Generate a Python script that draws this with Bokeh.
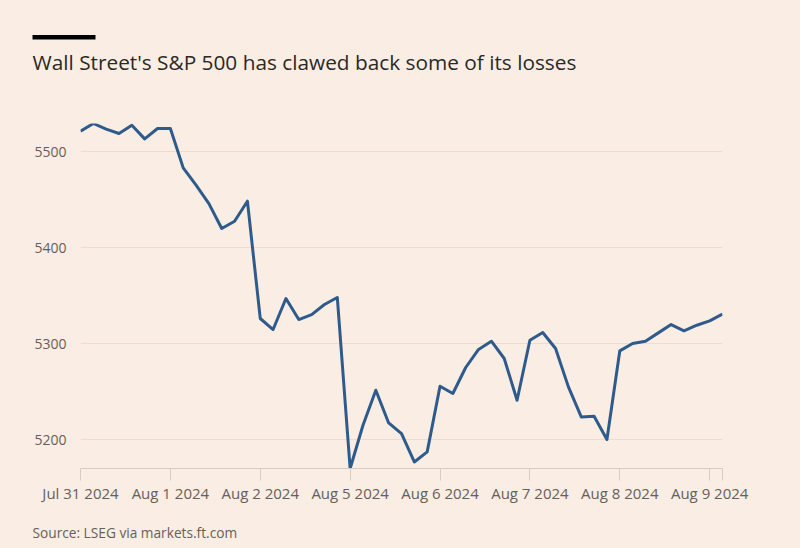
from bokeh.plotting import figure
from bokeh.models import FixedTicker, Range1d
from bokeh.layouts import column
from bokeh.core.properties import value
from bokeh.embed import file_html
from bokeh.resources import INLINE

# --- data (hourly S&P 500 levels) ---
sp500 = [5521.6, 5529.6, 5523.7, 5519.2, 5527.8, 5513.6, 5524.4,   # Jul 31
         5524.4, 5483.3, 5465.3, 5446.0, 5420.1, 5427.7, 5448.6,   # Aug 1
         5326.3, 5314.8, 5347.1, 5325.2, 5330.4, 5340.9, 5348.2,   # Aug 2
         5169.9, 5215.0, 5251.5, 5217.4, 5206.3, 5176.7, 5187.2,   # Aug 5
         5255.7, 5248.1, 5275.2, 5294.0, 5302.6, 5284.6, 5241.1,   # Aug 6
         5303.6, 5311.7, 5295.0, 5255.0, 5223.7, 5224.4, 5200.1,   # Aug 7
         5292.5, 5300.2, 5302.6, 5311.3, 5320.0, 5313.4, 5319.3,   # Aug 8
         5323.8, 5330.8]                                           # Aug 9
day_labels = ["Jul 31 2024", "Aug 1 2024", "Aug 2 2024", "Aug 5 2024",
              "Aug 6 2024", "Aug 7 2024", "Aug 8 2024", "Aug 9 2024"]
points_per_day = 7
y_ticks = [5200, 5300, 5400, 5500]
title_text = "Wall Street's S&P 500 has clawed back some of its losses"
source_text = "Source: LSEG via markets.ft.com"

idx = list(range(len(sp500)))
day_starts = [i * points_per_day for i in range(len(day_labels))]

BG = "#FAEDE3"
TEXT = "#2B2926"
GREY = "#66605C"
FONT = "Open Sans"

W, H = 800, 548
HEAD_H, FOOT_TOP = 100, 515          # page rows: header 0..100, chart 100..515, footer 515..548
FL, FR, FT, FB = 80, 722, 123, 468   # plot frame edges in page pixels


def blank(height, y0, y1):
    f = figure(width=W, height=height, output_backend="svg", toolbar_location=None,
               x_range=Range1d(0, W), y_range=Range1d(y1, y0),
               x_axis_type=None, y_axis_type=None, min_border=0, frame_align=False)
    f.background_fill_color = BG
    f.border_fill_color = BG
    f.outline_line_color = None
    f.grid.visible = False
    return f


# ---- header: short black rule and headline ----
head = blank(HEAD_H, 0, HEAD_H)
head.quad(left=[32], right=[95], top=[34.5], bottom=[39], fill_color="#000000", line_color=None)
head.text(x=[32], y=[61], text=[title_text], text_font=value(FONT), text_font_size=value("20.8px"),
          text_color=TEXT, text_align="left", text_baseline="middle")

# ---- main chart ----
p = figure(width=W, height=FOOT_TOP - HEAD_H, output_backend="svg", toolbar_location=None,
           x_range=Range1d(0, len(sp500) - 1),
           y_range=Range1d(min(sp500), max(sp500)),
           min_border_left=FL, min_border_right=W - FR,
           min_border_top=FT - HEAD_H, min_border_bottom=FOOT_TOP - FB,
           frame_align=False)
p.background_fill_color = BG
p.border_fill_color = BG
p.outline_line_color = None

p.line(idx, sp500, line_color="#2E5B8C", line_width=3, line_join="round")

ticks = day_starts + [len(sp500) - 1]
p.xaxis.ticker = FixedTicker(ticks=ticks)
overrides = {d: lab for d, lab in zip(day_starts, day_labels)}
overrides[len(sp500) - 1] = ""
p.xaxis.major_label_overrides = overrides
p.xaxis.axis_line_color = "#D9CCC1"
p.xaxis.major_tick_line_color = "#D9CCC1"
p.xaxis.major_tick_in = 0
p.xaxis.major_tick_out = 12
p.xaxis.minor_tick_line_color = None
p.xaxis.major_label_standoff = 2
p.xaxis.major_label_text_font = FONT
p.xaxis.major_label_text_font_size = "15px"
p.xaxis.major_label_text_color = GREY

p.yaxis.ticker = FixedTicker(ticks=y_ticks)
p.yaxis.axis_line_color = None
p.yaxis.major_tick_line_color = None
p.yaxis.minor_tick_line_color = None
p.yaxis.major_label_standoff = 8
p.yaxis.major_label_text_font = FONT
p.yaxis.major_label_text_font_size = "14px"
p.yaxis.major_label_text_color = GREY

p.xgrid.grid_line_color = None
p.ygrid.grid_line_color = "#EBDDD2"
p.ygrid.grid_line_width = 1

# ---- footer: source ----
foot = blank(H - FOOT_TOP, FOOT_TOP, H)
foot.text(x=[32], y=[532], text=[source_text], text_font=value(FONT), text_font_size=value("13.7px"),
          text_color=GREY, text_align="left", text_baseline="middle")

page = column(head, p, foot, spacing=0)
page.background = BG
open("out.html", "w").write(file_html(page, INLINE))
